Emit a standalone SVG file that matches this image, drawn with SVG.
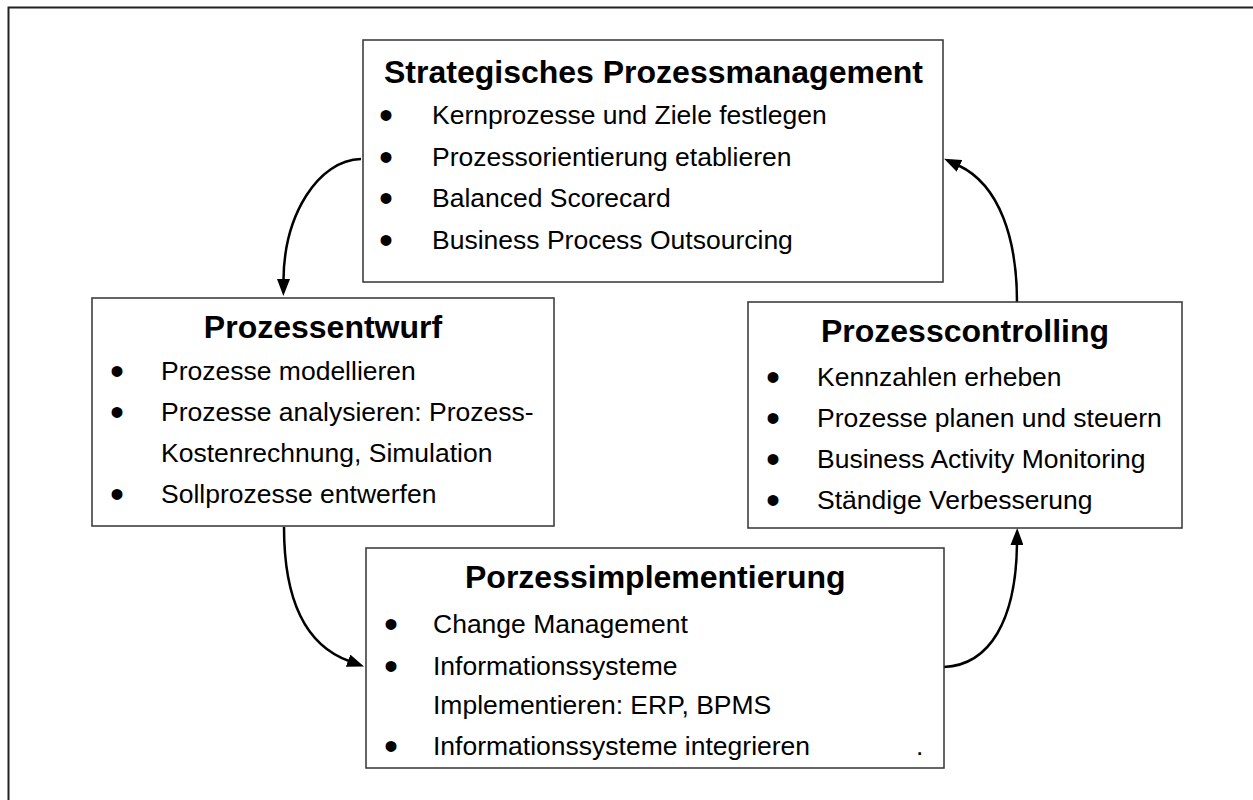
<svg xmlns="http://www.w3.org/2000/svg" width="1253" height="800" viewBox="0 0 1253 800">
  <style>
    .box { fill: #ffffff; stroke: #333333; stroke-width: 1.5; }
    .title { font-family: "Liberation Sans", Arial, sans-serif; font-size: 32px; font-weight: bold; fill: #000000; }
    .item { font-family: "Liberation Sans", Arial, sans-serif; font-size: 26.5px; fill: #000000; }
    .bul { font-family: "Liberation Sans", Arial, sans-serif; font-size: 40px; fill: #000000; text-anchor: middle; }
    .conn { fill: none; stroke: #000000; stroke-width: 2.5; }
  </style>
  <defs>
    <marker id="ah" markerUnits="userSpaceOnUse" markerWidth="17" markerHeight="13" refX="1" refY="6.5" orient="auto" viewBox="0 0 17 13">
      <path d="M0,0 L17,6.5 L0,13 z" fill="#000000"/>
    </marker>
  </defs>
  <rect x="0" y="0" width="1253" height="800" fill="#ffffff"/>
  <path d="M8.5,800 L8.5,7.5 L1253,7.5" fill="none" stroke="#222222" stroke-width="2"/>

  <g id="connectors">
    <path class="conn" d="M361,159 C318,160 284,215 283.5,280" marker-end="url(#ah)"/>
    <path class="conn" d="M284,527 C284,600 305,645 349,661" marker-end="url(#ah)"/>
    <path class="conn" d="M944,667 C990,665 1016,620 1017,544" marker-end="url(#ah)"/>
    <path class="conn" d="M1017,302 C1017,240 1000,185 958.6,165.5" marker-end="url(#ah)"/>
  </g>

  <g id="strategisches">
    <rect class="box" x="363" y="40" width="580" height="242"/>
    <text class="title" x="384" y="83">Strategisches Prozessmanagement</text>
    <text class="bul" x="386" y="129">•</text>
    <text class="item" x="432" y="124">Kernprozesse und Ziele festlegen</text>
    <text class="bul" x="386" y="171">•</text>
    <text class="item" x="432" y="166">Prozessorientierung etablieren</text>
    <text class="bul" x="386" y="212">•</text>
    <text class="item" x="432" y="207">Balanced Scorecard</text>
    <text class="bul" x="386" y="254">•</text>
    <text class="item" x="432" y="249">Business Process Outsourcing</text>
  </g>

  <g id="prozessentwurf">
    <rect class="box" x="92" y="298" width="462" height="228"/>
    <text class="title" x="323" y="338" text-anchor="middle">Prozessentwurf</text>
    <text class="bul" x="117" y="385">•</text>
    <text class="item" x="161" y="380">Prozesse modellieren</text>
    <text class="bul" x="117" y="426">•</text>
    <text class="item" x="161" y="421">Prozesse analysieren: Prozess-</text>
    <text class="item" x="161" y="462">Kostenrechnung, Simulation</text>
    <text class="bul" x="117" y="508">•</text>
    <text class="item" x="161" y="503">Sollprozesse entwerfen</text>
  </g>

  <g id="prozesscontrolling">
    <rect class="box" x="748" y="302" width="434" height="226"/>
    <text class="title" x="965" y="342" text-anchor="middle">Prozesscontrolling</text>
    <text class="bul" x="773" y="391">•</text>
    <text class="item" x="817" y="386">Kennzahlen erheben</text>
    <text class="bul" x="773" y="432">•</text>
    <text class="item" x="817" y="427">Prozesse planen und steuern</text>
    <text class="bul" x="773" y="473">•</text>
    <text class="item" x="817" y="468">Business Activity Monitoring</text>
    <text class="bul" x="773" y="514">•</text>
    <text class="item" x="817" y="509">Ständige Verbesserung</text>
  </g>

  <g id="implementierung">
    <rect class="box" x="366" y="548" width="578" height="220"/>
    <text class="title" x="465" y="588">Porzessimplementierung</text>
    <text class="bul" x="391" y="638">•</text>
    <text class="item" x="433" y="633">Change Management</text>
    <text class="bul" x="391" y="680">•</text>
    <text class="item" x="433" y="675">Informationssysteme</text>
    <text class="item" x="433" y="714">Implementieren: ERP, BPMS</text>
    <text class="bul" x="391" y="760">•</text>
    <text class="item" x="433" y="755">Informationssysteme integrieren</text>
    <text class="item" x="916" y="755">.</text>
  </g>
</svg>
